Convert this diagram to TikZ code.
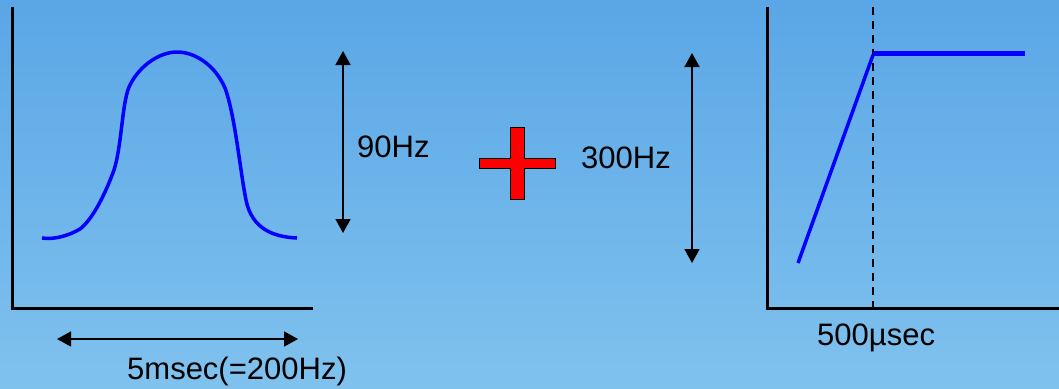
\documentclass[tikz,border=0pt]{standalone}
\usepackage{fontspec}
\setmainfont{Liberation Sans}
\usetikzlibrary{arrows.meta}
\definecolor{fzfundotopo}{HTML}{5AA6E6}
\definecolor{fzfundobase}{HTML}{80C2EE}
\definecolor{fzazul}{HTML}{0000FF}
\definecolor{fzvermelho}{HTML}{FF0000}
\tikzset{
  fzeixo/.style={line width=3pt, draw=black},
  fzcurva/.style={line width=3.5pt, draw=fzazul, line join=round},
  fzseta/.style={{Triangle[length=14pt,width=15pt]}-{Triangle[length=14pt,width=15pt]}, line width=1.6pt, draw=black},
  fzrotulo/.style={font=\fontsize{31}{36}\selectfont, inner sep=0pt, anchor=base west},
}

\begin{document}
\begin{tikzpicture}[x=1pt, y=-1pt]
        % ---------------- fundo ----------------
        \shade[top color=fzfundotopo, bottom color=fzfundobase] (0,0) rectangle (1059,388);
        \useasboundingbox (0,0) rectangle (1059,388);
        % ---------------- grafico da esquerda ----------------
        \draw[fzeixo] (12,7) -- (12,308) -- (313,308);
        \draw[fzcurva] (42,238) .. controls (55,240) and (70,235) .. (80,229)
                       .. controls (92,220) and (105,195) .. (114,170)
                       .. controls (122,145) and (122,100) .. (130,85)
                       .. controls (140,65) and (160,52) .. (177,52)
                       .. controls (195,52) and (215,65) .. (225,88)
                       .. controls (235,115) and (240,170) .. (246,200)
                       .. controls (252,230) and (275,237) .. (297,238);
        \coordinate (h1) at (57,339);
        \coordinate (h2) at (298,339);
        \draw[fzseta] (h1) -- (h2);
        \node[fzrotulo] (tlargura) at (127,379) {5msec(=200Hz)};
        \coordinate (v1) at (343,51);
        \coordinate (v2) at (343,233);
        \draw[fzseta] (v1) -- (v2);
        \node[fzrotulo] (taltura) at (357,157) {90Hz};
        % ---------------- sinal de mais ----------------
        \draw[line width=1pt, fill=fzvermelho] (510,127) -- (524,127) -- (524,158) -- (555,158) -- (555,168)
              -- (524,168) -- (524,199) -- (510,199) -- (510,168) -- (479,168) -- (479,158) -- (510,158) -- cycle;
        % ---------------- grafico da direita ----------------
        \coordinate (w1) at (692,53);
        \coordinate (w2) at (692,263);
        \draw[fzseta] (w1) -- (w2);
        \node[fzrotulo] (tsalto) at (581,168) {300Hz};
        \draw[fzeixo] (767,7) -- (767,308) -- (1059,308);
        \draw[line width=2pt, dashed, dash pattern=on 8pt off 6pt] (873,7) -- (873,308);
        \draw[line width=3.5pt, draw=fzazul] (798,263) -- (873,55);
        \draw[line width=5pt, draw=fzazul] (873,53) -- (1025,53);
        \node[fzrotulo] (ttempo) at (817,345) {500µsec};
    \end{tikzpicture}
\end{document}
